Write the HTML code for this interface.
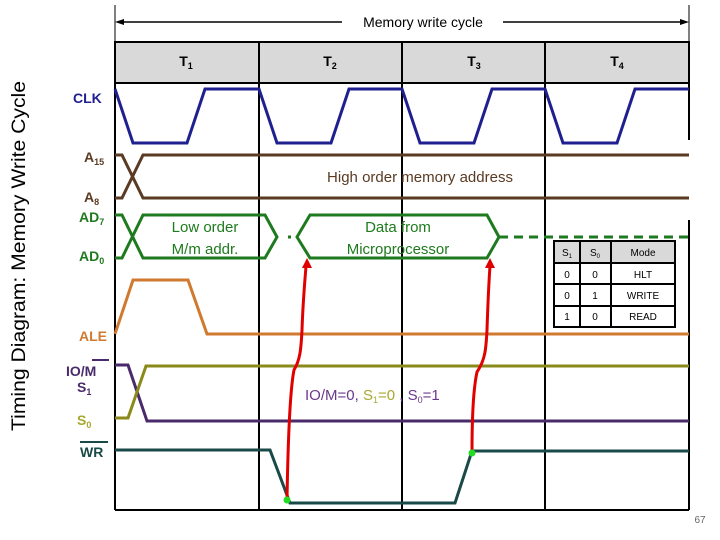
<!DOCTYPE html>
<html><head><meta charset="utf-8"><style>
html,body{margin:0;padding:0;background:#fff;}
svg{display:block;font-family:"Liberation Sans",sans-serif;}
</style></head><body>
<svg width="720" height="540" viewBox="0 0 720 540" xmlns="http://www.w3.org/2000/svg">
<rect width="720" height="540" fill="#fff"/>
<!-- title -->
<text transform="translate(25,256) rotate(-90)" text-anchor="middle" font-size="19.5" fill="#000" textLength="350" lengthAdjust="spacingAndGlyphs">Timing Diagram: Memory Write Cycle</text>
<!-- cycle arrow -->
<line x1="115" y1="5" x2="115" y2="42" stroke="#000" stroke-width="1"/>
<line x1="689" y1="5" x2="689" y2="42" stroke="#000" stroke-width="1"/>
<line x1="120" y1="22" x2="342" y2="22" stroke="#000" stroke-width="1.5"/>
<line x1="503" y1="22" x2="684" y2="22" stroke="#000" stroke-width="1.5"/>
<polygon points="115,22 124,19 124,25" fill="#000"/>
<polygon points="689,22 680,19 680,25" fill="#000"/>
<text x="423" y="27" text-anchor="middle" font-size="14">Memory write cycle</text>
<!-- header -->
<rect x="115" y="42" width="574" height="41" fill="#d9d9d9" stroke="#000" stroke-width="2"/>
<text x="186" y="66" text-anchor="middle" font-size="14" font-weight="bold">T<tspan font-size="9" dy="3">1</tspan></text>
<text x="330" y="66" text-anchor="middle" font-size="14" font-weight="bold">T<tspan font-size="9" dy="3">2</tspan></text>
<text x="474" y="66" text-anchor="middle" font-size="14" font-weight="bold">T<tspan font-size="9" dy="3">3</tspan></text>
<text x="617" y="66" text-anchor="middle" font-size="14" font-weight="bold">T<tspan font-size="9" dy="3">4</tspan></text>
<!-- frame -->
<g stroke="#000" stroke-width="2" fill="none">
<line x1="115" y1="42" x2="115" y2="510"/>
<line x1="259" y1="42" x2="259" y2="510"/>
<line x1="402" y1="42" x2="402" y2="510"/>
<line x1="545" y1="42" x2="545" y2="510"/>
<line x1="689" y1="42" x2="689" y2="140"/>
<line x1="689" y1="220" x2="689" y2="510"/>
<line x1="115" y1="510" x2="689" y2="510"/>
</g>
<!-- labels -->
<g font-weight="bold" font-size="14">
<text x="73" y="103" fill="#1f1f8f">CLK</text>
<text x="84" y="162" fill="#5a3a22">A<tspan font-size="9" dy="3">15</tspan></text>
<text x="84" y="202" fill="#5a3a22">A<tspan font-size="9" dy="3">8</tspan></text>
<text x="79" y="222" fill="#1e7a1e">AD<tspan font-size="9" dy="3">7</tspan></text>
<text x="79" y="261" fill="#1e7a1e">AD<tspan font-size="9" dy="3">0</tspan></text>
<text x="79" y="341" fill="#d07a30">ALE</text>
<text x="66" y="376" fill="#4a2a6a">IO/M</text>
<line x1="92" y1="360" x2="109" y2="360" stroke="#4a2a6a" stroke-width="2"/>
<text x="77" y="392" fill="#4a2a6a">S<tspan font-size="9" dy="3">1</tspan></text>
<text x="77" y="425" fill="#a8a830">S<tspan font-size="9" dy="3">0</tspan></text>
<text x="80" y="457" fill="#1a4a48">WR</text>
<line x1="80" y1="442" x2="108" y2="442" stroke="#1a4a48" stroke-width="2"/>
</g>
<!-- CLK -->
<polyline fill="none" stroke="#1f1f8f" stroke-width="3" points="115,89 133,143 187,143 205,89 259,89 277,143 331,143 349,89 402,89 420,143 474,143 492,89 545,89 563,143 617,143 635,89 689,89"/>
<!-- A15-A8 -->
<g fill="none" stroke="#5a3a22" stroke-width="3">
<path d="M115,155 L122,155 L143,198 L689,198"/>
<path d="M115,198 L122,198 L143,155 L689,155"/>
</g>
<text x="420" y="182" text-anchor="middle" font-size="15" fill="#5a3a22">High order  memory address</text>
<!-- AD -->
<g fill="none" stroke="#1e7a1e" stroke-width="3">
<path d="M115,215 L122,215 L143,258 L265,258 L277,237 L265,215 L143,215 L122,258 L115,258"/>
<path d="M297,237 L310,215 L487,215 L499,237 L487,258 L310,258 Z"/>
<line x1="288" y1="237" x2="291" y2="237"/>
<line x1="499" y1="237" x2="689" y2="237" stroke-dasharray="9,6"/>
</g>
<text x="205" y="232" text-anchor="middle" font-size="15" fill="#1e7a1e">Low order</text>
<text x="205" y="254" text-anchor="middle" font-size="15" fill="#1e7a1e">M/m addr.</text>
<text x="398" y="232" text-anchor="middle" font-size="15" fill="#1e7a1e">Data   from</text>
<text x="398" y="254" text-anchor="middle" font-size="15" fill="#1e7a1e">Microprocessor</text>
<!-- table -->
<rect x="554" y="241" width="121" height="22" fill="#d9d9d9"/>
<g stroke="#000" stroke-width="2" fill="none">
<rect x="554" y="241" width="121" height="86"/>
<line x1="554" y1="263" x2="675" y2="263"/>
<line x1="554" y1="284" x2="675" y2="284"/>
<line x1="554" y1="306" x2="675" y2="306"/>
<line x1="580" y1="241" x2="580" y2="327"/>
<line x1="611" y1="241" x2="611" y2="327"/>
</g>
<g font-size="10" text-anchor="middle">
<text x="567" y="256">S<tspan font-size="6" dy="2">1</tspan></text>
<text x="595" y="256">S<tspan font-size="6" dy="2">0</tspan></text>
<text x="643" y="256">Mode</text>
<text x="567" y="278">0</text><text x="595" y="278">0</text><text x="643" y="278">HLT</text>
<text x="567" y="299">0</text><text x="595" y="299">1</text><text x="643" y="299">WRITE</text>
<text x="567" y="320">1</text><text x="595" y="320">0</text><text x="643" y="320">READ</text>
</g>
<!-- ALE -->
<polyline fill="none" stroke="#d07a30" stroke-width="3" points="115,334 133,280 188,280 207,334 689,334"/>
<!-- IO/M and S0 -->
<polyline fill="none" stroke="#4a2a6a" stroke-width="3" points="115,365 128,365 147,421 689,421"/>
<polyline fill="none" stroke="#8a8a1a" stroke-width="3" points="115,418 128,418 146,366 689,366"/>
<text x="305" y="400" font-size="15" fill="#6a3a8a">IO/M=0, <tspan fill="#a8a830">S<tspan font-size="9" dy="3">1</tspan><tspan dy="-3">=0</tspan></tspan> , S<tspan font-size="9" dy="3">0</tspan><tspan dy="-3">=1</tspan></text>
<!-- WR -->
<polyline fill="none" stroke="#1a4a48" stroke-width="3" points="115,450 270,450 290,503 455,503 472,451 689,451"/>
<!-- red arrows -->
<g fill="none" stroke="#e00000" stroke-width="3">
<path d="M287,500 C288,440 290,390 294,370 C300,360 301,350 302,330 C303,300 305,280 306,266"/>
<path d="M472,452 C472,420 473,390 477,372 C485,360 486,350 487,330 C488,300 489,280 490,266"/>
</g>
<polygon points="307,258 302,268 312,268" fill="#e00000"/>
<polygon points="490,258 485,268 495,268" fill="#e00000"/>
<circle cx="287" cy="500" r="3.5" fill="#22dd22"/>
<circle cx="472" cy="453" r="3.5" fill="#22dd22"/>
<text x="700" y="523" text-anchor="middle" font-size="10" fill="#666">67</text>
</svg>
</body></html>
